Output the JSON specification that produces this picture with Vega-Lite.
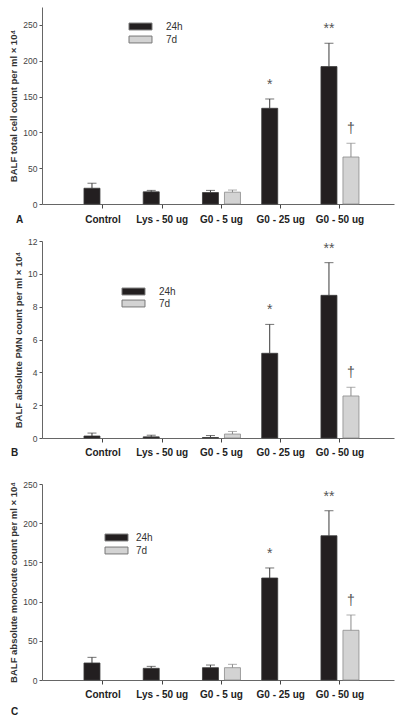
{
  "$schema": "https://vega.github.io/schema/vega-lite/v6.json",
  "padding": {"left": 8, "top": 7, "right": 5, "bottom": 5},
  "config": {
    "font": "Liberation Sans",
    "view": {"stroke": null},
    "axis": {"grid": false, "labelOverlap": false, "labelSeparation": 0, "labelBound": false},
    "axisY": {"labelOverlap": false},
    "axisQuantitative": {"labelOverlap": false}
  },
  "datasets": {
    "A": [
      {"group": "Control", "time": "24h", "mean": 22, "upper": 29},
      {"group": "Lys - 50 ug", "time": "24h", "mean": 17, "upper": 19},
      {"group": "G0 - 5 ug", "time": "24h", "mean": 16, "upper": 19},
      {"group": "G0 - 5 ug", "time": "7d", "mean": 16.5, "upper": 19.5},
      {"group": "G0 - 25 ug", "time": "24h", "mean": 133.6, "upper": 146.6, "sig": "*"},
      {"group": "G0 - 50 ug", "time": "24h", "mean": 191.8, "upper": 224.4, "sig": "**"},
      {"group": "G0 - 50 ug", "time": "7d", "mean": 65.6, "upper": 84.8, "sig": "†"}
    ],
    "B": [
      {"group": "Control", "time": "24h", "mean": 0.12, "upper": 0.3},
      {"group": "Lys - 50 ug", "time": "24h", "mean": 0.07, "upper": 0.17},
      {"group": "G0 - 5 ug", "time": "24h", "mean": 0.03, "upper": 0.15},
      {"group": "G0 - 5 ug", "time": "7d", "mean": 0.24, "upper": 0.4},
      {"group": "G0 - 25 ug", "time": "24h", "mean": 5.16, "upper": 6.92, "sig": "*"},
      {"group": "G0 - 50 ug", "time": "24h", "mean": 8.69, "upper": 10.68, "sig": "**"},
      {"group": "G0 - 50 ug", "time": "7d", "mean": 2.56, "upper": 3.09, "sig": "†"}
    ],
    "C": [
      {"group": "Control", "time": "24h", "mean": 21.7, "upper": 28.9},
      {"group": "Lys - 50 ug", "time": "24h", "mean": 14.9, "upper": 17.4},
      {"group": "G0 - 5 ug", "time": "24h", "mean": 15.7, "upper": 19.1},
      {"group": "G0 - 5 ug", "time": "7d", "mean": 15.7, "upper": 20},
      {"group": "G0 - 25 ug", "time": "24h", "mean": 130.1, "upper": 142.9, "sig": "*"},
      {"group": "G0 - 50 ug", "time": "24h", "mean": 184, "upper": 215.9, "sig": "**"},
      {"group": "G0 - 50 ug", "time": "7d", "mean": 63.4, "upper": 82.9, "sig": "†"}
    ]
  },
  "resolve": {"scale": {"fill": "independent"}, "legend": {"fill": "independent"}},
  "spacing": 13,
  "vconcat": [
    {
      "width": 352, "height": 197,
      "data": {"name": "A"},
      "encoding": {
        "x": {"field": "group", "type": "nominal", "sort": ["Control", "Lys - 50 ug", "G0 - 5 ug", "G0 - 25 ug", "G0 - 50 ug"],
          "scale": {"paddingInner": 0.3586, "paddingOuter": 0.65, "align": 0.545},
          "axis": {"title": "A", "titleAngle": 0, "titleX": -23, "titleY": 15, "titleBaseline": "middle", "titleAlign": "center", "titleFontSize": 10, "titleFontWeight": "bold", "titleColor": "#222",
            "labelAngle": 0, "labelFontSize": 10, "labelFontWeight": "bold", "labelColor": "#222", "labelBaseline": "middle", "labelPadding": 11, "tickSize": 4, "tickColor": "#444", "domainColor": "#666"}},
        "xOffset": {"field": "time", "type": "nominal", "scale": {"domain": ["24h", "7d"], "paddingInner": 0.2727, "paddingOuter": 0}},
        "y": {"field": "mean", "type": "quantitative", "scale": {"domain": [0, 275], "nice": false},
          "axis": {"title": "BALF total cell count per ml × 10⁴", "values": [0, 50, 100, 150, 200, 250], "labelOverlap": false, "titleFontSize": 9.5, "titleFontWeight": "bold", "titleColor": "#333", "titlePadding": 4, "labelFontSize": 8.5, "labelColor": "#444", "labelPadding": 2, "tickSize": 3, "tickColor": "#555", "domainColor": "#666"}}
      },
      "layer": [
        {"mark": {"type": "bar", "strokeWidth": 0.8},
          "encoding": {
            "fill": {"field": "time", "type": "nominal", "scale": {"domain": ["24h", "7d"], "range": ["#231f20", "#d3d3d3"]},
              "legend": {"title": null, "orient": "none", "legendX": 92, "legendY": 13, "symbolType": "M-2,-0.6H2V0.6H-2Z", "symbolSize": 132, "symbolStrokeColor": "#777", "symbolStrokeWidth": 1, "labelFontSize": 10, "labelColor": "#333", "labelOffset": 19, "rowPadding": 1}},
            "stroke": {"condition": {"test": "datum.time === '7d'", "value": "#8a8a8a"}, "value": "#3a3a3a"}
          }},
        {"mark": {"type": "rule", "strokeWidth": 1},
          "encoding": {"y2": {"field": "upper"},
            "color": {"condition": {"test": "datum.time === '7d'", "value": "#8a8a8a"}, "value": "#3a3a3a"}}},
        {"mark": {"type": "tick", "thickness": 1, "size": 9},
          "encoding": {"y": {"field": "upper", "type": "quantitative"},
            "color": {"condition": {"test": "datum.time === '7d'", "value": "#8a8a8a"}, "value": "#3a3a3a"}}},
        {"transform": [{"filter": "datum.sig"}],
          "mark": {"type": "text", "baseline": "alphabetic", "dy": -10, "fontSize": 14, "color": "#555", "fill": "#555"},
          "encoding": {"y": {"field": "upper", "type": "quantitative"}, "text": {"field": "sig"}}}
      ]
    },
    {
      "width": 352, "height": 197,
      "data": {"name": "B"},
      "encoding": {
        "x": {"field": "group", "type": "nominal", "sort": ["Control", "Lys - 50 ug", "G0 - 5 ug", "G0 - 25 ug", "G0 - 50 ug"],
          "scale": {"paddingInner": 0.3586, "paddingOuter": 0.65, "align": 0.545},
          "axis": {"title": "B", "titleAngle": 0, "titleX": -28, "titleY": 14, "titleBaseline": "middle", "titleAlign": "center", "titleFontSize": 10, "titleFontWeight": "bold", "titleColor": "#222",
            "labelAngle": 0, "labelFontSize": 10, "labelFontWeight": "bold", "labelColor": "#222", "labelBaseline": "middle", "labelPadding": 10, "tickSize": 4, "tickColor": "#444", "domainColor": "#666"}},
        "xOffset": {"field": "time", "type": "nominal", "scale": {"domain": ["24h", "7d"], "paddingInner": 0.2727, "paddingOuter": 0}},
        "y": {"field": "mean", "type": "quantitative", "scale": {"domain": [0, 12], "nice": false},
          "axis": {"title": "BALF absolute PMN count per ml × 10⁴", "values": [0, 2, 4, 6, 8, 10, 12], "labelOverlap": false, "titleFontSize": 9.5, "titleFontWeight": "bold", "titleColor": "#333", "titlePadding": 4, "labelFontSize": 8.5, "labelColor": "#444", "labelPadding": 2, "tickSize": 3, "tickColor": "#555", "domainColor": "#666"}}
      },
      "layer": [
        {"mark": {"type": "bar", "strokeWidth": 0.8},
          "encoding": {
            "fill": {"field": "time", "type": "nominal", "scale": {"domain": ["24h", "7d"], "range": ["#231f20", "#d3d3d3"]},
              "legend": {"title": null, "orient": "none", "legendX": 85, "legendY": 44, "symbolType": "M-2,-0.6H2V0.6H-2Z", "symbolSize": 132, "symbolStrokeColor": "#777", "symbolStrokeWidth": 1, "labelFontSize": 10, "labelColor": "#333", "labelOffset": 19, "rowPadding": 0}},
            "stroke": {"condition": {"test": "datum.time === '7d'", "value": "#8a8a8a"}, "value": "#3a3a3a"}
          }},
        {"mark": {"type": "rule", "strokeWidth": 1},
          "encoding": {"y2": {"field": "upper"},
            "color": {"condition": {"test": "datum.time === '7d'", "value": "#8a8a8a"}, "value": "#3a3a3a"}}},
        {"mark": {"type": "tick", "thickness": 1, "size": 9},
          "encoding": {"y": {"field": "upper", "type": "quantitative"},
            "color": {"condition": {"test": "datum.time === '7d'", "value": "#8a8a8a"}, "value": "#3a3a3a"}}},
        {"transform": [{"filter": "datum.sig"}],
          "mark": {"type": "text", "baseline": "alphabetic", "dy": -10, "fontSize": 14, "color": "#555", "fill": "#555"},
          "encoding": {"y": {"field": "upper", "type": "quantitative"}, "text": {"field": "sig"}}}
      ]
    },
    {
      "width": 352, "height": 196,
      "title": {"text": " ", "fontSize": 6, "offset": 4},
      "data": {"name": "C"},
      "encoding": {
        "x": {"field": "group", "type": "nominal", "sort": ["Control", "Lys - 50 ug", "G0 - 5 ug", "G0 - 25 ug", "G0 - 50 ug"],
          "scale": {"paddingInner": 0.3586, "paddingOuter": 0.65, "align": 0.545},
          "axis": {"title": "C", "titleAngle": 0, "titleX": -28, "titleY": 31, "titleBaseline": "middle", "titleAlign": "center", "titleFontSize": 10, "titleFontWeight": "bold", "titleColor": "#222",
            "labelAngle": 0, "labelFontSize": 10, "labelFontWeight": "bold", "labelColor": "#222", "labelBaseline": "middle", "labelPadding": 10, "tickSize": 4, "tickColor": "#444", "domainColor": "#666"}},
        "xOffset": {"field": "time", "type": "nominal", "scale": {"domain": ["24h", "7d"], "paddingInner": 0.2727, "paddingOuter": 0}},
        "y": {"field": "mean", "type": "quantitative", "scale": {"domain": [0, 250], "nice": false},
          "axis": {"title": "BALF absolute monocute count per ml × 10⁴", "values": [0, 50, 100, 150, 200, 250], "labelOverlap": false, "titleFontSize": 9.5, "titleFontWeight": "bold", "titleColor": "#333", "titlePadding": 4, "labelFontSize": 8.5, "labelColor": "#444", "labelPadding": 2, "tickSize": 3, "tickColor": "#555", "domainColor": "#666"}}
      },
      "layer": [
        {"mark": {"type": "bar", "strokeWidth": 0.8},
          "encoding": {
            "fill": {"field": "time", "type": "nominal", "scale": {"domain": ["24h", "7d"], "range": ["#231f20", "#d3d3d3"]},
              "legend": {"title": null, "orient": "none", "legendX": 68, "legendY": 47, "symbolType": "M-2,-0.6H2V0.6H-2Z", "symbolSize": 132, "symbolStrokeColor": "#777", "symbolStrokeWidth": 1, "labelFontSize": 10, "labelColor": "#333", "labelOffset": 13, "rowPadding": 1}},
            "stroke": {"condition": {"test": "datum.time === '7d'", "value": "#8a8a8a"}, "value": "#3a3a3a"}
          }},
        {"mark": {"type": "rule", "strokeWidth": 1},
          "encoding": {"y2": {"field": "upper"},
            "color": {"condition": {"test": "datum.time === '7d'", "value": "#8a8a8a"}, "value": "#3a3a3a"}}},
        {"mark": {"type": "tick", "thickness": 1, "size": 9},
          "encoding": {"y": {"field": "upper", "type": "quantitative"},
            "color": {"condition": {"test": "datum.time === '7d'", "value": "#8a8a8a"}, "value": "#3a3a3a"}}},
        {"transform": [{"filter": "datum.sig"}],
          "mark": {"type": "text", "baseline": "alphabetic", "dy": -10, "fontSize": 14, "color": "#555", "fill": "#555"},
          "encoding": {"y": {"field": "upper", "type": "quantitative"}, "text": {"field": "sig"}}}
      ]
    }
  ]
}
